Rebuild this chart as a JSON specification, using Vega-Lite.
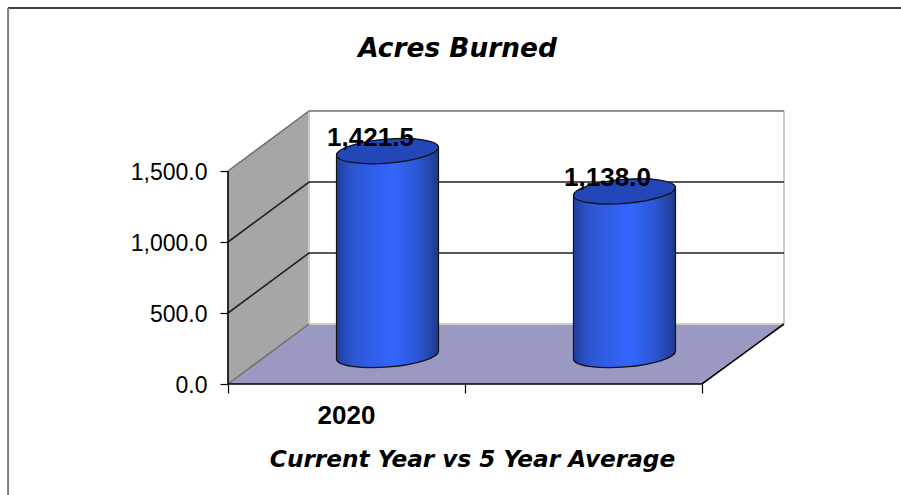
{"$schema":"https://vega.github.io/schema/vega-lite/v6.json","width":901,"height":495,"padding":0,"autosize":"none","background":"white","config":{"view":{"stroke":null},"scale":{"continuousPadding":0}},"resolve":{"axis":{"x":"independent","y":"independent"}},"title":{"text":"Acres Burned","font":"DejaVu Sans","fontSize":26.4,"fontWeight":"bold","fontStyle":"italic","color":"#000","anchor":"middle","frame":"group","dx":7,"dy":66},"datasets":{"acres":[{"period":"2020","slot":0.5,"acres":1421.5},{"period":"5 Year Average","slot":1.5,"acres":1138.0}]},"layer":[{"data":{"values":[{"x":0,"x2":2,"y":0},{"x":0.342,"x2":2.346,"y":422.5}]},"mark":{"type":"area","orient":"horizontal","fill":"#9999c2","opacity":1},"encoding":{"x":{"field":"x","type":"quantitative","scale":{"domain":[-0.962,2.8397],"nice":false,"zero":false},"axis":{"orient":"bottom","offset":-111,"values":[0,1,2],"labels":false,"grid":false,"domain":false,"tickSize":9,"tickColor":"#000","tickWidth":1.2,"title":"Current Year vs 5 Year Average","titleFont":"DejaVu Sans","titleFontSize":23.2,"titleFontWeight":"bold","titleFontStyle":"italic","titleColor":"#000","titleX":472,"titleY":75,"titleBaseline":"middle"}},"x2":{"field":"x2"},"y":{"field":"y","type":"quantitative","scale":{"domain":[-781.7,2704.2],"nice":false,"zero":false},"axis":{"orient":"left","offset":-228,"values":[0,500,1000,1500],"format":",.1f","grid":false,"domain":false,"tickSize":8,"tickColor":"#000","tickWidth":1.2,"labelFont":"Liberation Sans","labelFontSize":23,"labelColor":"#000","labelPadding":13,"labelOffset":1.5,"title":null}}}},{"data":{"values":[{"x":0,"y":0,"y2":1500},{"x":0.342,"y":422.5,"y2":1922.5}]},"mark":{"type":"area","orient":"vertical","fill":"#a6a6a6","opacity":1},"encoding":{"x":{"field":"x","type":"quantitative","scale":{"domain":[-0.962,2.8397],"nice":false,"zero":false},"axis":null},"y":{"field":"y","type":"quantitative","scale":{"domain":[-781.7,2704.2],"nice":false,"zero":false},"axis":null},"y2":{"field":"y2"}}},{"data":{"values":[{"g":"a","i":0,"x":0.342,"y":422.5},{"g":"a","i":1,"x":0.342,"y":1922.5},{"g":"b","i":0,"x":0.342,"y":422.5},{"g":"b","i":1,"x":2.346,"y":422.5},{"g":"c","i":0,"x":2.346,"y":422.5},{"g":"c","i":1,"x":2.346,"y":1922.5}]},"mark":{"type":"line","stroke":"#cccccc","strokeWidth":2},"encoding":{"x":{"field":"x","type":"quantitative","scale":{"domain":[-0.962,2.8397],"nice":false,"zero":false},"axis":null},"y":{"field":"y","type":"quantitative","scale":{"domain":[-781.7,2704.2],"nice":false,"zero":false},"axis":null},"detail":{"field":"g"},"order":{"field":"i"}}},{"data":{"values":[{"g":"top","i":0,"x":0,"y":1500},{"g":"top","i":1,"x":0.342,"y":1922.5},{"g":"top","i":2,"x":2.346,"y":1922.5},{"g":"floor","i":0,"x":0,"y":0},{"g":"floor","i":1,"x":0.342,"y":422.5}]},"mark":{"type":"line","stroke":"#707070","strokeWidth":1.5},"encoding":{"x":{"field":"x","type":"quantitative","scale":{"domain":[-0.962,2.8397],"nice":false,"zero":false},"axis":null},"y":{"field":"y","type":"quantitative","scale":{"domain":[-781.7,2704.2],"nice":false,"zero":false},"axis":null},"detail":{"field":"g"},"order":{"field":"i"}}},{"data":{"values":[{"g":"500","i":0,"x":0,"y":500},{"g":"500","i":1,"x":0.342,"y":922.5},{"g":"500","i":2,"x":2.346,"y":922.5},{"g":"1000","i":0,"x":0,"y":1000},{"g":"1000","i":1,"x":0.342,"y":1422.5},{"g":"1000","i":2,"x":2.346,"y":1422.5}]},"mark":{"type":"line","stroke":"#222222","strokeWidth":1.6},"encoding":{"x":{"field":"x","type":"quantitative","scale":{"domain":[-0.962,2.8397],"nice":false,"zero":false},"axis":null},"y":{"field":"y","type":"quantitative","scale":{"domain":[-781.7,2704.2],"nice":false,"zero":false},"axis":null},"detail":{"field":"g"},"order":{"field":"i"}}},{"data":{"values":[{"i":0,"x":0,"y":1500},{"i":1,"x":0,"y":0},{"i":2,"x":2,"y":0},{"i":3,"x":2.346,"y":422.5}]},"mark":{"type":"line","stroke":"#000000","strokeWidth":1.6},"encoding":{"x":{"field":"x","type":"quantitative","scale":{"domain":[-0.962,2.8397],"nice":false,"zero":false},"axis":null},"y":{"field":"y","type":"quantitative","scale":{"domain":[-781.7,2704.2],"nice":false,"zero":false},"axis":null},"order":{"field":"i"}}},{"data":{"values":[{"x":-0.928,"x2":2.8397,"y":2647.9}]},"mark":{"type":"rule","stroke":"#000000","strokeWidth":1.5},"encoding":{"x":{"field":"x","type":"quantitative","scale":{"domain":[-0.962,2.8397],"nice":false,"zero":false},"axis":null},"x2":{"field":"x2"},"y":{"field":"y","type":"quantitative","scale":{"domain":[-781.7,2704.2],"nice":false,"zero":false},"axis":null}}},{"data":{"values":[{"x":-0.928,"y":2647.9,"y2":-781.7}]},"mark":{"type":"rule","stroke":"#808080","strokeWidth":2},"encoding":{"x":{"field":"x","type":"quantitative","scale":{"domain":[-0.962,2.8397],"nice":false,"zero":false},"axis":null},"y":{"field":"y","type":"quantitative","scale":{"domain":[-781.7,2704.2],"nice":false,"zero":false},"axis":null},"y2":{"field":"y2"}}},{"data":{"name":"acres"},"mark":{"type":"point","shape":"M1,-0.08 C1.007,0.049 0.569,0.19 0.019,0.234 C-0.532,0.279 -0.987,0.209 -1,0.08 L-1,-0.3 L1,-0.3 Z","size":10404,"filled":true,"opacity":1,"strokeWidth":0,"xOffset":41,"yOffset":-29,"fill":{"gradient":"linear","x1":0,"y1":0,"x2":1,"y2":0,"stops":[{"offset":0,"color":"#1f3e9e"},{"offset":0.15,"color":"#2c55d0"},{"offset":0.55,"color":"#3366ff"},{"offset":0.8,"color":"#2c56d4"},{"offset":1,"color":"#1f3a8c"}]}},"encoding":{"x":{"field":"slot","type":"quantitative","scale":{"domain":[-0.962,2.8397],"nice":false,"zero":false},"axis":null},"y":{"datum":0,"type":"quantitative","scale":{"domain":[-781.7,2704.2],"nice":false,"zero":false},"axis":null}}},{"data":{"name":"acres"},"mark":{"type":"point","shape":"M1,-0.08 C1.007,0.049 0.569,0.19 0.019,0.234 C-0.532,0.279 -0.987,0.209 -1,0.08","size":10404,"filled":false,"opacity":1,"stroke":"#111111","strokeWidth":1.3,"xOffset":41,"yOffset":-29},"encoding":{"x":{"field":"slot","type":"quantitative","scale":{"domain":[-0.962,2.8397],"nice":false,"zero":false},"axis":null},"y":{"datum":0,"type":"quantitative","scale":{"domain":[-781.7,2704.2],"nice":false,"zero":false},"axis":null}}},{"data":{"name":"acres"},"mark":{"type":"bar","orient":"vertical","size":102,"yOffset":-12,"y2Offset":-41,"fill":{"gradient":"linear","x1":0,"y1":0,"x2":1,"y2":0,"stops":[{"offset":0,"color":"#1f3e9e"},{"offset":0.15,"color":"#2c55d0"},{"offset":0.55,"color":"#3366ff"},{"offset":0.8,"color":"#2c56d4"},{"offset":1,"color":"#1f3a8c"}]},"xOffset":41},"encoding":{"x":{"field":"slot","type":"quantitative","scale":{"domain":[-0.962,2.8397],"nice":false,"zero":false},"axis":null},"y":{"field":"acres","type":"quantitative","scale":{"domain":[-781.7,2704.2],"nice":false,"zero":false},"axis":null},"y2":{"datum":0}}},{"data":{"name":"acres"},"mark":{"type":"point","shape":"M1,-0.08 C1.007,0.049 0.569,0.19 0.019,0.234 C-0.532,0.279 -0.987,0.209 -1,0.08 L-1,0.5 L1,0.5 Z","size":10404,"filled":true,"opacity":1,"strokeWidth":0,"xOffset":41,"yOffset":-31,"fill":{"gradient":"linear","x1":0,"y1":0,"x2":1,"y2":0,"stops":[{"offset":0,"color":"#1f3e9e"},{"offset":0.15,"color":"#2c55d0"},{"offset":0.55,"color":"#3366ff"},{"offset":0.8,"color":"#2c56d4"},{"offset":1,"color":"#1f3a8c"}]}},"encoding":{"x":{"field":"slot","type":"quantitative","scale":{"domain":[-0.962,2.8397],"nice":false,"zero":false},"axis":null},"y":{"field":"acres","type":"quantitative","scale":{"domain":[-781.7,2704.2],"nice":false,"zero":false},"axis":null}}},{"data":{"name":"acres"},"mark":{"type":"rule","stroke":"#111111","strokeWidth":1.2,"xOffset":-10,"yOffset":-27,"y2Offset":-25},"encoding":{"x":{"field":"slot","type":"quantitative","scale":{"domain":[-0.962,2.8397],"nice":false,"zero":false},"axis":null},"y":{"field":"acres","type":"quantitative","scale":{"domain":[-781.7,2704.2],"nice":false,"zero":false},"axis":null},"y2":{"datum":0}}},{"data":{"name":"acres"},"mark":{"type":"rule","stroke":"#111111","strokeWidth":1.2,"xOffset":92,"yOffset":-35,"y2Offset":-33},"encoding":{"x":{"field":"slot","type":"quantitative","scale":{"domain":[-0.962,2.8397],"nice":false,"zero":false},"axis":null},"y":{"field":"acres","type":"quantitative","scale":{"domain":[-781.7,2704.2],"nice":false,"zero":false},"axis":null},"y2":{"datum":0}}},{"data":{"name":"acres"},"mark":{"type":"point","shape":"M1,-0.08 C1.007,0.049 0.569,0.19 0.019,0.234 C-0.532,0.279 -0.987,0.209 -1,0.08 C-1.007,-0.049 -0.569,-0.19 -0.019,-0.234 C0.532,-0.279 0.987,-0.209 1,-0.08 Z","size":10404,"filled":true,"opacity":1,"fill":"#2347b8","stroke":"#111111","strokeWidth":1.3,"xOffset":41,"yOffset":-31},"encoding":{"x":{"field":"slot","type":"quantitative","scale":{"domain":[-0.962,2.8397],"nice":false,"zero":false},"axis":null},"y":{"field":"acres","type":"quantitative","scale":{"domain":[-781.7,2704.2],"nice":false,"zero":false},"axis":null}}},{"data":{"name":"acres"},"mark":{"type":"text","font":"Liberation Sans","fontWeight":"bold","fontSize":26,"color":"#000","baseline":"middle","align":"center","xOffset":24,"yOffset":-44},"encoding":{"x":{"field":"slot","type":"quantitative","scale":{"domain":[-0.962,2.8397],"nice":false,"zero":false},"axis":null},"y":{"field":"acres","type":"quantitative","scale":{"domain":[-781.7,2704.2],"nice":false,"zero":false},"axis":null},"text":{"field":"acres","type":"quantitative","format":",.1f"}}},{"data":{"name":"acres"},"transform":[{"filter":"datum.period === '2020'"}],"mark":{"type":"text","font":"Liberation Sans","fontWeight":"bold","fontSize":26,"color":"#000","baseline":"middle","align":"center","yOffset":32},"encoding":{"x":{"field":"slot","type":"quantitative","scale":{"domain":[-0.962,2.8397],"nice":false,"zero":false},"axis":null},"y":{"datum":0,"type":"quantitative","scale":{"domain":[-781.7,2704.2],"nice":false,"zero":false},"axis":null},"text":{"field":"period"}}}]}
